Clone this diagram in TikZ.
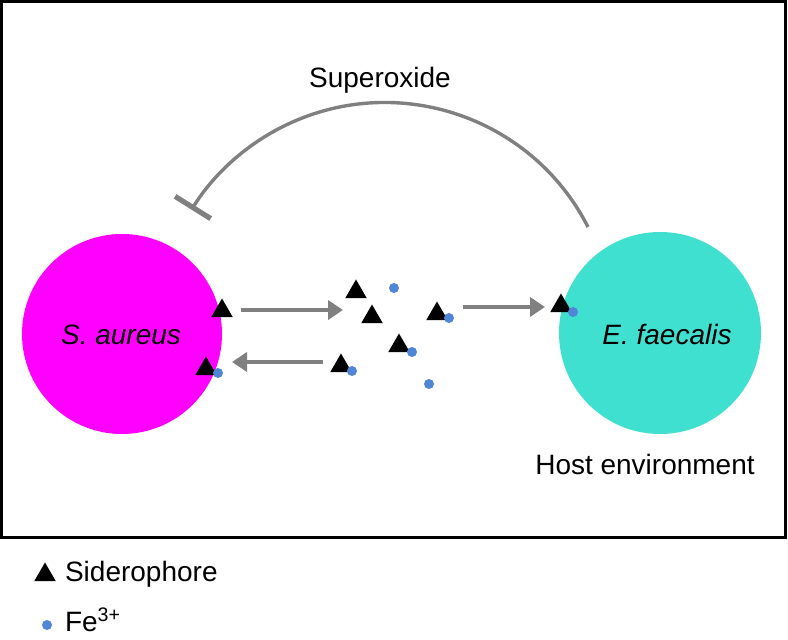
\documentclass[tikz,border=0pt]{standalone}
\usepackage{fontspec}
\setmainfont{Liberation Sans}
\usetikzlibrary{arrows.meta,shapes.geometric}
\definecolor{fuchsia}{RGB}{255, 0, 255}
\definecolor{turquoise}{RGB}{64, 224, 208}
\definecolor{ironblue}{RGB}{79, 134, 214}
\definecolor{concrete}{RGB}{128, 128, 128}

\begin{document}
\begin{tikzpicture}[x=0.5pt, y=-0.5pt,
    every node/.style={font=\fontsize{14}{17}\selectfont},
    sidero/.style={regular polygon, regular polygon sides=3, fill=black, minimum size=12.5pt, inner sep=0pt},
    iron/.style={circle, fill=ironblue, minimum size=5pt, inner sep=0pt},
    transport/.style={draw=concrete, line width=2.2pt, -{Triangle[length=7.5pt, width=9.5pt]}},
    superox/.style={draw=concrete, line width=1.7pt, -{Bar[width=21pt, line width=2.6pt]}}]
            \useasboundingbox (0,0) rectangle (788,640);
            % Host frame
            \draw[line width=1.5pt] (1.5,1.5) rectangle (785,538);
            % Bacteria
            \node[circle, fill=fuchsia, minimum size=100pt, inner sep=0pt] (saureus) at (122,334) {};
            \node[circle, fill=turquoise, minimum size=101pt, inner sep=0pt] (efaecalis) at (660,333) {};
            \node[anchor=base] (salabel) at (121,345) {\textit{S. aureus}};
            \node[anchor=base] (eflabel) at (667,345) {\textit{E. faecalis}};
            \node[anchor=base] (host) at (645,475) {Host environment};
            % Superoxide inhibition
            \node[anchor=base] (superlabel) at (380,88) {Superoxide};
            \coordinate (arcstart) at (588,227);
            \draw[superox] (arcstart) arc[start angle=-27, end angle=-148, radius=228];
            % Siderophores and iron
            \node[sidero] (s1) at (222,311) {};
            \node[sidero] (s2) at (206,369) {};
            \node[iron]   (f2) at (218,373) {};
            \node[sidero] (s3) at (356,292) {};
            \node[iron]   (f3) at (394,288) {};
            \node[sidero] (s4) at (372,317) {};
            \node[sidero] (s5) at (437,314) {};
            \node[iron]   (f5) at (449,318) {};
            \node[sidero] (s6) at (399,346) {};
            \node[iron]   (f6) at (412,352) {};
            \node[sidero] (s7) at (341,366) {};
            \node[iron]   (f7) at (352,371) {};
            \node[iron]   (f8) at (429,384) {};
            \node[sidero] (s9) at (561,306) {};
            \node[iron]   (f9) at (573,312) {};
            % Transport arrows
            \coordinate (exportA) at (241,310);
            \coordinate (exportB) at (343,310);
            \coordinate (importA) at (323,362);
            \coordinate (importB) at (232,362);
            \coordinate (uptakeA) at (463,307);
            \coordinate (uptakeB) at (545,307);
            \draw[transport] (exportA) -- (exportB);
            \draw[transport] (importA) -- (importB);
            \draw[transport] (uptakeA) -- (uptakeB);
            % Legend
            \node[sidero] (legsid) at (45,575) {};
            \node[anchor=base west] (legsidtext) at (58,582) {Siderophore};
            \node[iron] (legfe) at (47,625) {};
            \node[anchor=base west] (legfetext) at (58,632) {Fe\textsuperscript{3+}};
        \end{tikzpicture}
\end{document}
